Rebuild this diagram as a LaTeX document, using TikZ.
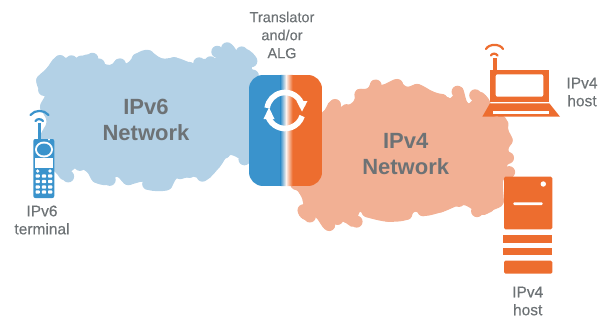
\documentclass[tikz,border=0pt]{standalone}
\usepackage{fontspec}
\usetikzlibrary{calc}
\setmainfont{Liberation Sans}
\newfontfamily\lblfont[BoldFont=Liberation Sans,BoldFeatures={FakeBold=0.25}]{Liberation Sans}
\definecolor{blueD}{HTML}{3A93CC}
\definecolor{orangeD}{HTML}{ED6D2F}
\definecolor{cloudB}{HTML}{B3D1E6}
\definecolor{cloudO}{HTML}{F2B094}
\definecolor{txt}{HTML}{6D7275}
\tikzset{
  small/.style={text=txt,align=center,font=\lblfont\bfseries\fontsize{15.5}{18}\selectfont,inner sep=0pt},
  smaller/.style={text=txt,align=center,font=\lblfont\bfseries\fontsize{14.5}{18}\selectfont,inner sep=0pt},
  big/.style={text=txt,align=center,font=\bfseries\fontsize{22}{26.5}\selectfont,inner sep=0pt},
  wave/.style={line width=2.2pt,line cap=round},
  keypad/.style={fill=white,rounded corners=0.8pt},
  ring/.style={white,line width=5.6pt}
}
\newcommand{\bluepts}{20/130,50/100,75/68,110/68,140/68,175/58,195/75,240/90,262/72,290/85,320/55,355/45,395/70,440/68,490/85,520/72,555/70,575/38,605/28,630/60,650/42,680/70,665/100,685/115,670/140,660/170,670/300,660/380,600/360,570/395,530/435,490/425,460/430,440/430,415/465,355/465,340/440,290/450,260/425,230/450,190/440,170/410,135/400,100/435,75/410,50/400,30/310,50/260,30/215,45/180,25/160}
\newcommand{\orangepts}{95/130,120/95,155/110,190/95,200/60,232/55,250/30,275/45,320/27,350/50,385/42,430/65,465/75,480/85,515/52,535/100,570/65,600/95,590/130,650/150,655/180,668/210,655/240,672/265,650/290,675/310,640/330,640/400,610/420,575/435,520/405,460/425,405/438,375/425,350/450,290/455,225/440,210/425,190/470,160/455,130/460,105/478,75/440,45/450,25/430,40/400,25/365,0/340,0/200}
\begin{document}
\begin{tikzpicture}[x=1pt,y=-1pt]
\useasboundingbox (0,0) rectangle (605,321);
% clouds
\begin{scope}[shift={(30,35)},x=0.33333pt,y=-0.33333pt]
\coordinate (cb) at (350,250);
\fill[cloudB] plot[smooth cycle,tension=0.55] coordinates {
(20,130)(50,100)(75,68)(110,68)(140,68)(175,58)(195,75)(240,90)(262,72)(290,85)(320,55)(355,45)(395,70)(440,68)(490,85)(520,72)(555,70)(575,38)(605,28)(630,60)(650,42)(680,70)(665,100)(685,115)(670,140)(660,170)(670,300)(660,380)(600,360)(570,395)(530,435)(490,425)(460,430)(440,430)(415,465)(355,465)(340,440)(290,450)(260,425)(230,450)(190,440)(170,410)(135,400)(100,435)(75,410)(50,400)(30,310)(50,260)(30,215)(45,180)(25,160)};
\foreach \px/\py in \bluepts { \fill[cloudB] ($(\px,\py)!6pt!(cb)$) circle[radius=6pt]; }
\end{scope}
\begin{scope}[shift={(290,70)},x=0.33333pt,y=-0.33333pt]
\coordinate (co) at (340,240);
\fill[cloudO] plot[smooth cycle,tension=0.55] coordinates {
(95,130)(120,95)(155,110)(190,95)(200,60)(232,55)(250,30)(275,45)(320,27)(350,50)(385,42)(430,65)(465,75)(480,85)(515,52)(535,100)(570,65)(600,95)(590,130)(650,150)(655,180)(668,210)(655,240)(672,265)(650,290)(675,310)(640,330)(640,400)(610,420)(575,435)(520,405)(460,425)(405,438)(375,425)(350,450)(290,455)(225,440)(210,425)(190,470)(160,455)(130,460)(105,478)(75,440)(45,450)(25,430)(40,400)(25,365)(0,340)(0,200)};
\foreach \px/\py in \orangepts { \fill[cloudO] ($(\px,\py)!6pt!(co)$) circle[radius=6pt]; }
\end{scope}
% translator box
\begin{scope}
\clip[rounded corners=14pt] (249,75) rectangle (322,186);
\fill[blueD] (249,75) rectangle (281,186);
\fill[orangeD] (292,75) rectangle (322,186);
\shade[left color=blueD,right color=white!85!cloudO] (280.5,75) rectangle (286,186);
\shade[left color=white!85!cloudO,right color=orangeD] (286,75) rectangle (292.5,186);
\end{scope}
\draw[ring] (285,110.5) ++(160:18) arc[start angle=160,end angle=18,radius=18];
\draw[ring] (285,110.5) ++(-12:18) arc[start angle=-12,end angle=-172,radius=18];
\fill[white] (296.5,101) -- (307.5,101) -- (302,111.5) -- cycle;
\fill[white] (263.5,119) -- (274.5,119) -- (269,107.5) -- cycle;
% phone
\fill[blueD] (37.5,123) rectangle (40.5,140);
\fill[blueD,rounded corners=2pt] (33.3,139) rectangle (54.3,198);
\draw[blueD,wave] (30.5,115) .. controls (35,109.5) and (44,109.5) .. (48.5,115);
\draw[blueD,wave] (35.5,121) .. controls (37,118.5) and (41,118.5) .. (43,121);
\fill[white] (49,139.5) circle[radius=1];
\fill[white] (44,149.5) ellipse[x radius=9,y radius=8];
\fill[blueD] (44,149.5) ellipse[x radius=7,y radius=6];
\fill[white] (35,157.7) rectangle (52.7,167.7);
\fill[white] (37.7,171) circle[radius=1.8];
\fill[white] (50,171) circle[radius=1.8];
\foreach \ky in {176,181.5,187,192}
  \foreach \kx in {37.7,44,50.2}
    \fill[keypad] (\kx-2.2,\ky-1.6) rectangle (\kx+2.2,\ky+1.6);
% laptop
\fill[orangeD] (490,70) rectangle (549.3,101.7);
\fill[white,rounded corners=2pt] (495.7,74.3) rectangle (543.3,96.7);
\fill[orangeD] (490,103.3) -- (549.3,103.3) -- (560,116.7) -- (482.3,116.7) -- cycle;
\fill[white] (492.7,111) rectangle (549.3,113.7);
\fill[orangeD] (492.7,58) rectangle (496.7,70);
\draw[orangeD,wave] (486,49) .. controls (489,43.5) and (500,43.5) .. (503,49);
\draw[orangeD,wave] (491,55.5) .. controls (492,53) and (496,53) .. (497.5,55.5);
% server
\fill[orangeD,rounded corners=1.5pt] (504,176.7) rectangle (552.3,229.3);
\fill[white,rounded corners=1pt] (513.3,202.3) rectangle (542.7,205);
\fill[white] (543.3,184) circle[radius=2.7];
\fill[orangeD] (503,235) rectangle (552.3,242.7);
\fill[orangeD] (503,247.7) rectangle (552.3,255);
\fill[orangeD,rounded corners=1.5pt] (504,260.7) rectangle (552.3,273.7);
% labels
\node[big] (net6) at (146,120) {IPv6\\Network};
\node[big] (net4) at (405.7,154) {IPv4\\Network};
\node[smaller] (alg) at (282,35) {Translator\\and/or\\ALG};
\node[small] (term) at (42,220) {IPv6\\terminal};
\node[small] (host1) at (582,92) {IPv4\\host};
\node[small] (host2) at (527.7,301) {IPv4\\host};
\end{tikzpicture}
\end{document}
